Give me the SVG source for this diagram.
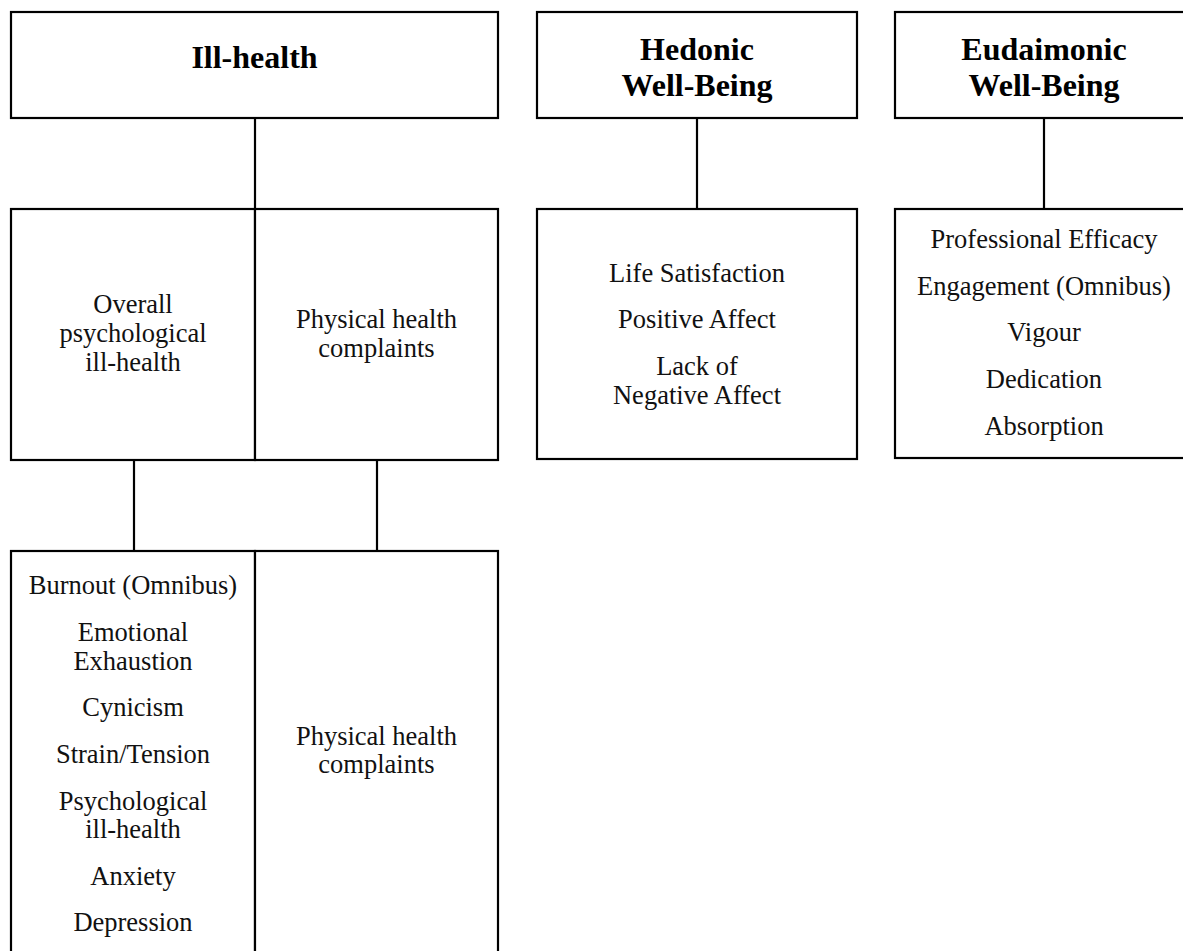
<svg xmlns="http://www.w3.org/2000/svg" width="1183" height="951" viewBox="0 0 1183 951">
<style>
.box{fill:#fff;stroke:#000;stroke-width:2.2}
.ln{stroke:#000;stroke-width:2.2;fill:none}
.t{font-family:"Liberation Serif","Times New Roman",serif;font-size:26.5px;fill:#111;text-anchor:middle}
.h{font-family:"Liberation Serif","Times New Roman",serif;font-size:32px;font-weight:bold;fill:#000;text-anchor:middle}
</style>
<rect width="1183" height="951" fill="#fff"/>
<g id="connectors">
<line class="ln" x1="255" y1="118" x2="255" y2="209"/>
<line class="ln" x1="697" y1="118" x2="697" y2="209"/>
<line class="ln" x1="1044" y1="118" x2="1044" y2="209"/>
<line class="ln" x1="134" y1="460" x2="134" y2="551"/>
<line class="ln" x1="377" y1="460" x2="377" y2="551"/>
</g>
<g id="ill-health">
<rect class="box" x="11" y="12" width="487" height="106"/>
<text class="h" x="254.5" y="68">Ill-health</text>
</g>
<g id="hedonic">
<rect class="box" x="537" y="12" width="320" height="106"/>
<text class="h"><tspan x="697" y="60">Hedonic</tspan><tspan x="697" y="96">Well-Being</tspan></text>
</g>
<g id="eudaimonic">
<rect class="box" x="895" y="12" width="298" height="106"/>
<text class="h"><tspan x="1044" y="60">Eudaimonic</tspan><tspan x="1044" y="96">Well-Being</tspan></text>
</g>
<g id="overall-psych">
<rect class="box" x="11" y="209" width="244" height="251"/>
<text class="t"><tspan x="133" y="313">Overall</tspan><tspan x="133" y="342">psychological</tspan><tspan x="133" y="371">ill-health</tspan></text>
</g>
<g id="physical-1">
<rect class="box" x="255" y="209" width="243" height="251"/>
<text class="t"><tspan x="376.5" y="328">Physical health</tspan><tspan x="376.5" y="357">complaints</tspan></text>
</g>
<g id="hedonic-items">
<rect class="box" x="537" y="209" width="320" height="250"/>
<text class="t" x="697" y="281.7">Life Satisfaction</text>
<text class="t" x="697" y="328.3">Positive Affect</text>
<text class="t"><tspan x="697" y="375">Lack of</tspan><tspan x="697" y="403.5">Negative Affect</tspan></text>
</g>
<g id="eudaimonic-items">
<rect class="box" x="895" y="209" width="298" height="249"/>
<text class="t" x="1044" y="248">Professional Efficacy</text>
<text class="t" x="1044" y="294.7">Engagement (Omnibus)</text>
<text class="t" x="1044" y="341.4">Vigour</text>
<text class="t" x="1044" y="388">Dedication</text>
<text class="t" x="1044" y="434.8">Absorption</text>
</g>
<g id="psych-items">
<rect class="box" x="11" y="551" width="244" height="420"/>
<text class="t" x="133" y="594">Burnout (Omnibus)</text>
<text class="t"><tspan x="133" y="641">Emotional</tspan><tspan x="133" y="669.5">Exhaustion</tspan></text>
<text class="t" x="133" y="716">Cynicism</text>
<text class="t" x="133" y="763">Strain/Tension</text>
<text class="t"><tspan x="133" y="809.5">Psychological</tspan><tspan x="133" y="838">ill-health</tspan></text>
<text class="t" x="133" y="884.7">Anxiety</text>
<text class="t" x="133" y="931.4">Depression</text>
</g>
<g id="physical-2">
<rect class="box" x="255" y="551" width="243" height="420"/>
<text class="t"><tspan x="376.5" y="745">Physical health</tspan><tspan x="376.5" y="773">complaints</tspan></text>
</g>
</svg>
